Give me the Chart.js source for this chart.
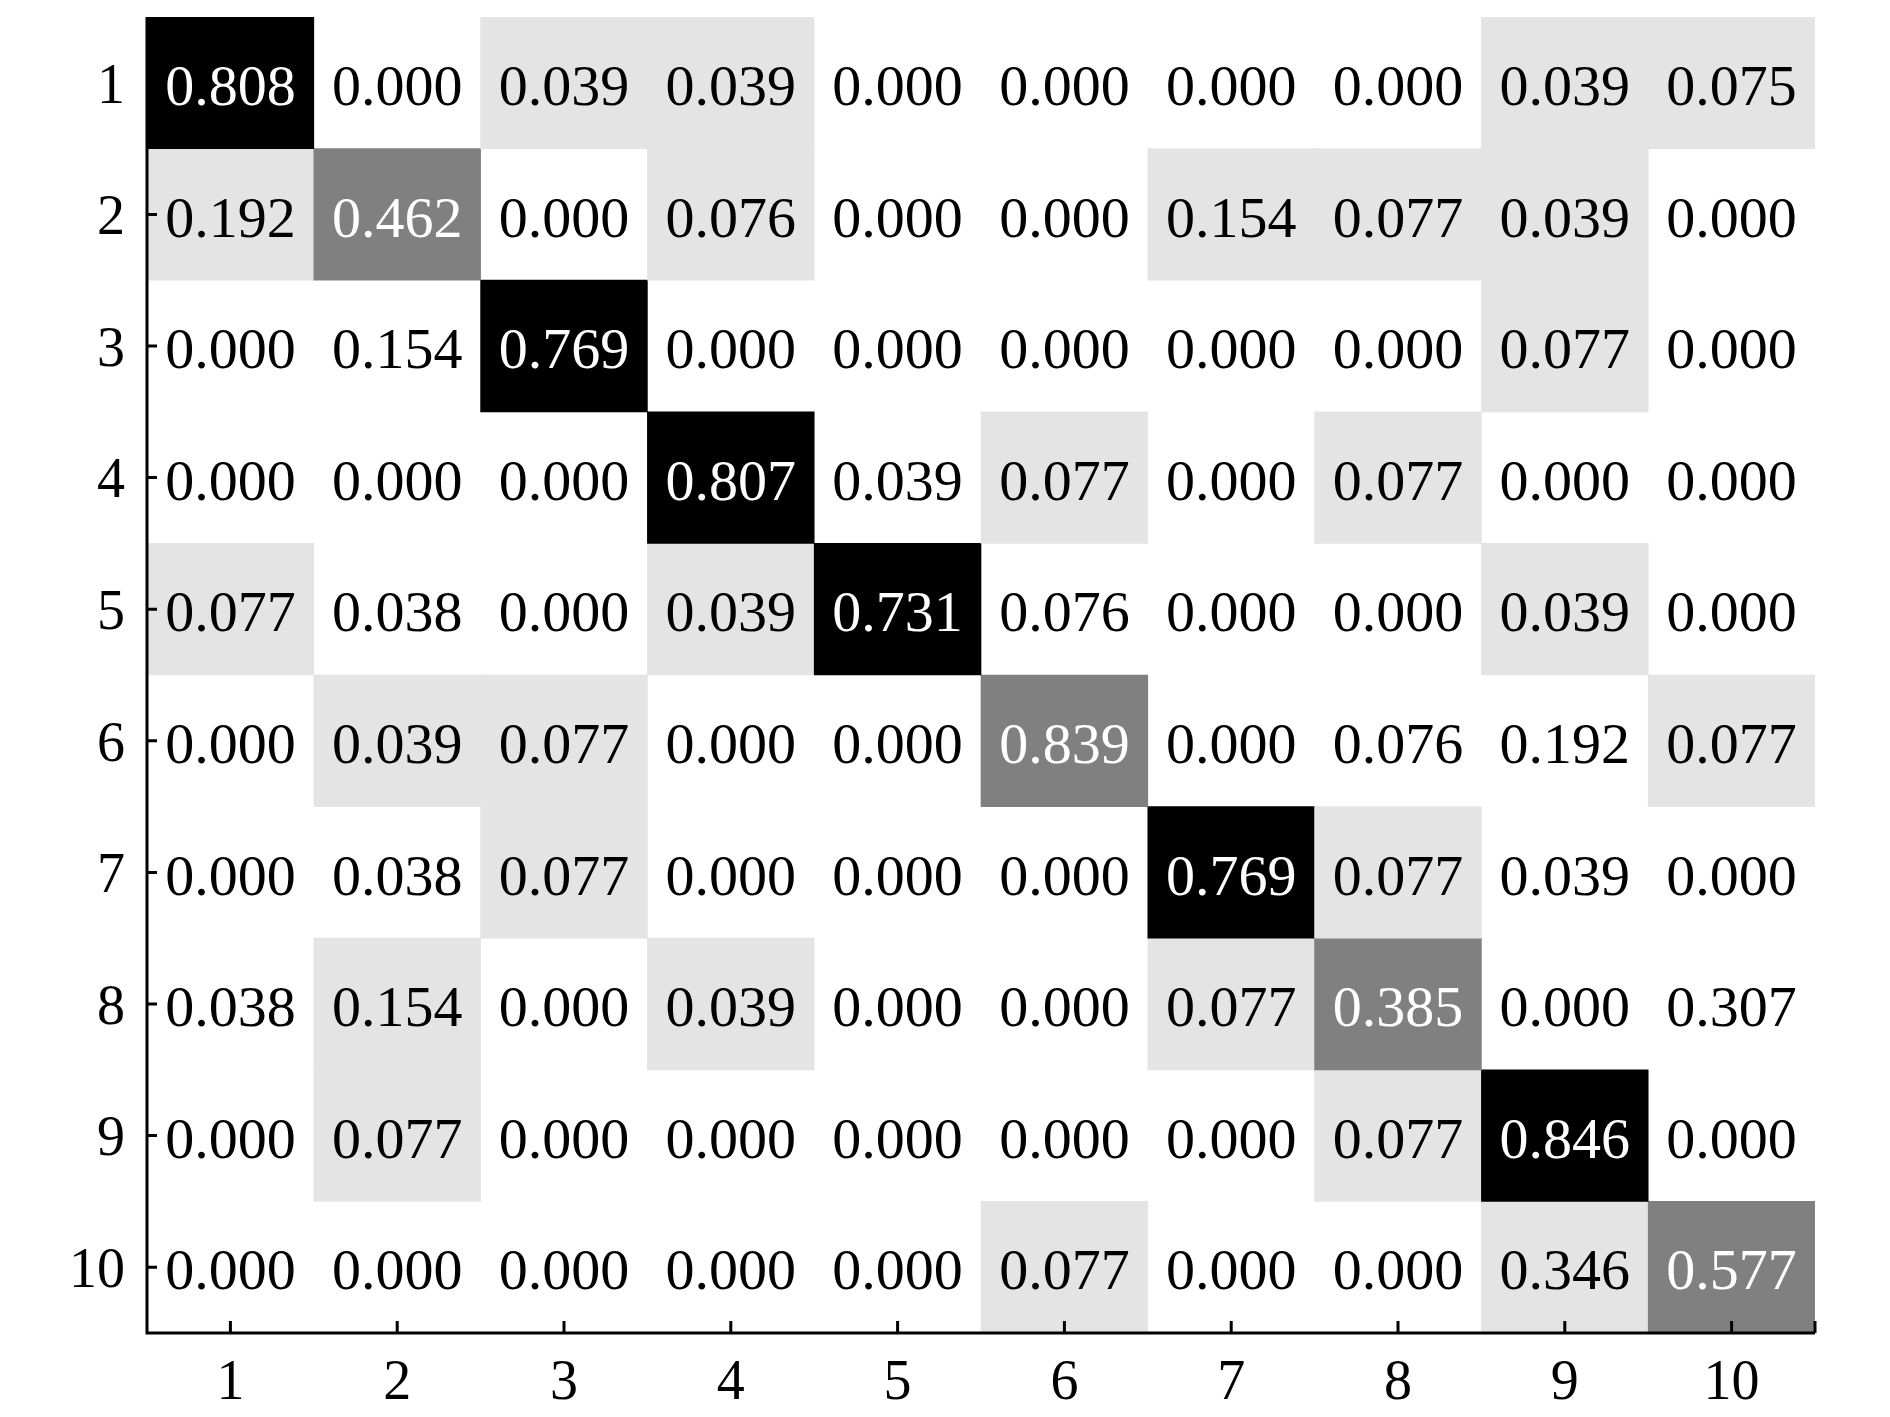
<!DOCTYPE html>
<html lang="en">
<head>
<meta charset="UTF-8">
<title>Confusion matrix</title>
<script src="https://cdn.jsdelivr.net/npm/chart.js"></script>
<style>
  body { margin: 0; background: #fff; }
</style>
</head>
<body>
<canvas id="cm" width="1890" height="1417"></canvas>
<script>
  // predicted classes (columns) and true classes (rows)
  var categories = ['1', '2', '3', '4', '5', '6', '7', '8', '9', '10'];
  var rowLabels = [1, 2, 3, 4, 5, 6, 7, 8, 9, 10];

  // value shown in each cell, row by row
  var cellValues = [
    [0.808, 0.000, 0.039, 0.039, 0.000, 0.000, 0.000, 0.000, 0.039, 0.075],
    [0.192, 0.462, 0.000, 0.076, 0.000, 0.000, 0.154, 0.077, 0.039, 0.000],
    [0.000, 0.154, 0.769, 0.000, 0.000, 0.000, 0.000, 0.000, 0.077, 0.000],
    [0.000, 0.000, 0.000, 0.807, 0.039, 0.077, 0.000, 0.077, 0.000, 0.000],
    [0.077, 0.038, 0.000, 0.039, 0.731, 0.076, 0.000, 0.000, 0.039, 0.000],
    [0.000, 0.039, 0.077, 0.000, 0.000, 0.839, 0.000, 0.076, 0.192, 0.077],
    [0.000, 0.038, 0.077, 0.000, 0.000, 0.000, 0.769, 0.077, 0.039, 0.000],
    [0.038, 0.154, 0.000, 0.039, 0.000, 0.000, 0.077, 0.385, 0.000, 0.307],
    [0.000, 0.077, 0.000, 0.000, 0.000, 0.000, 0.000, 0.077, 0.846, 0.000],
    [0.000, 0.000, 0.000, 0.000, 0.000, 0.077, 0.000, 0.000, 0.346, 0.577]
  ];

  // shade level of each cell: 0 white, 1 light grey, 2 grey, 3 black
  var cellShades = [
    [3, 0, 1, 1, 0, 0, 0, 0, 1, 1],
    [1, 2, 0, 1, 0, 0, 1, 1, 1, 0],
    [0, 0, 3, 0, 0, 0, 0, 0, 1, 0],
    [0, 0, 0, 3, 0, 1, 0, 1, 0, 0],
    [1, 0, 0, 1, 3, 0, 0, 0, 1, 0],
    [0, 1, 1, 0, 0, 2, 0, 0, 0, 1],
    [0, 0, 1, 0, 0, 0, 3, 1, 0, 0],
    [0, 1, 0, 1, 0, 0, 1, 2, 0, 0],
    [0, 1, 0, 0, 0, 0, 0, 1, 3, 0],
    [0, 0, 0, 0, 0, 1, 0, 0, 1, 2]
  ];

  var shadeColors = ['rgba(255,255,255,0)', '#e4e4e4', '#808080', '#000000'];
  var serif = '"Liberation Serif", "Times New Roman", serif';

  // one floating-bar dataset per row, each bar spans its row band
  var datasets = rowLabels.map(function (r, i) {
    return {
      label: 'row ' + r,
      data: categories.map(function () { return [r - 0.5, r + 0.5]; }),
      backgroundColor: cellShades[i].map(function (s) { return shadeColors[s]; }),
      borderWidth: 0,
      grouped: false,
      barPercentage: 1,
      categoryPercentage: 1
    };
  });

  // cell numbers, axis lines and inward ticks
  var cellText = {
    id: 'cellText',
    afterDatasetsDraw: function (chart) {
      var ctx = chart.ctx, xs = chart.scales.x, ys = chart.scales.y, a = chart.chartArea;
      ctx.save();
      ctx.font = '58px ' + serif;
      ctx.textAlign = 'center';
      ctx.textBaseline = 'middle';
      rowLabels.forEach(function (r, i) {
        categories.forEach(function (c, j) {
          ctx.fillStyle = cellShades[i][j] >= 2 ? '#ffffff' : '#000000';
          ctx.fillText(cellValues[i][j].toFixed(3), xs.getPixelForValue(j), ys.getPixelForValue(r) + 7);
        });
      });

      ctx.strokeStyle = '#000';
      ctx.lineWidth = 3;
      ctx.beginPath();
      ctx.moveTo(a.left, a.top);
      ctx.lineTo(a.left, a.bottom);
      ctx.lineTo(a.right, a.bottom);
      rowLabels.forEach(function (r) {
        var y = ys.getPixelForValue(r);
        ctx.moveTo(a.left, y);
        ctx.lineTo(a.left + 10, y);
      });
      categories.forEach(function (c, j) {
        var x = xs.getPixelForValue(j);
        ctx.moveTo(x, a.bottom);
        ctx.lineTo(x, a.bottom - 12);
      });
      ctx.moveTo(a.right, a.bottom);
      ctx.lineTo(a.right, a.bottom - 12);
      ctx.stroke();
      ctx.restore();
    }
  };

  var config = {
    type: 'bar',
    data: { labels: categories, datasets: datasets },
    options: {
      responsive: false,
      animation: false,
      devicePixelRatio: 1,
      layout: { padding: { top: 17, right: 75, bottom: 0, left: 0 } },
      plugins: { legend: { display: false }, tooltip: { enabled: false } },
      scales: {
        x: {
          type: 'category',
          grid: { display: false },
          border: { display: false },
          ticks: { color: '#000', font: { family: serif, size: 56 }, padding: 10, maxRotation: 0 },
          afterFit: function (s) {
            s.height = 84;
            s.paddingLeft = 0;
            s.paddingRight = 0;
          }
        },
        y: {
          type: 'linear',
          reverse: true,
          min: 0.5,
          max: 10.5,
          grid: { display: false },
          border: { display: false },
          afterBuildTicks: function (s) {
            s.ticks = rowLabels.map(function (v) { return { value: v }; });
          },
          ticks: {
            color: '#000',
            font: { family: serif, size: 56 },
            padding: 14,
            labelOffset: 5,
            callback: function (v) { return String(v); }
          },
          afterFit: function (s) {
            s.width = 147;
            s.paddingTop = 0;
            s.paddingBottom = 0;
          }
        }
      }
    },
    plugins: [cellText]
  };

  var cmChart = new Chart(document.getElementById('cm'), config);
</script>
</body>
</html>
